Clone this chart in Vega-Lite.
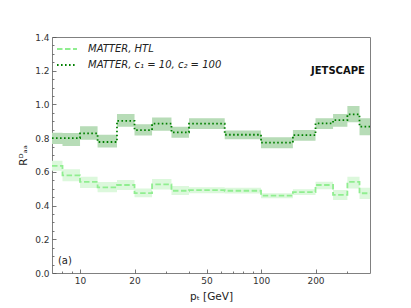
{
  "$schema": "https://vega.github.io/schema/vega-lite/v6.json",
  "width": 318,
  "height": 236,
  "autosize": {"type": "none"},
  "padding": {"left": 52, "top": 37, "right": 41, "bottom": 35},
  "config": {
    "font": "DejaVu Sans",
    "view": {"stroke": "#808080", "strokeWidth": 1},
    "axis": {"domain": false, "grid": false, "labelOverlap": false, "labelFlush": false, "labelFont": "DejaVu Sans", "labelFontSize": 9, "labelColor": "#333333", "tickColor": "#555555", "tickWidth": 0.8, "titleFont": "DejaVu Sans", "titleFontSize": 10.5, "titleFontWeight": "normal", "titleColor": "#222222"}
  },
  "datasets": {
    "bins": [
      {"series": "MATTER, HTL", "pt": 7, "v": 0.635, "lo": 0.607, "hi": 0.666},
      {"series": "MATTER, HTL", "pt": 8, "v": 0.579, "lo": 0.544, "hi": 0.615},
      {"series": "MATTER, HTL", "pt": 10, "v": 0.54, "lo": 0.504, "hi": 0.571},
      {"series": "MATTER, HTL", "pt": 12.5, "v": 0.508, "lo": 0.479, "hi": 0.54},
      {"series": "MATTER, HTL", "pt": 16, "v": 0.522, "lo": 0.492, "hi": 0.552},
      {"series": "MATTER, HTL", "pt": 20, "v": 0.474, "lo": 0.449, "hi": 0.502},
      {"series": "MATTER, HTL", "pt": 25, "v": 0.526, "lo": 0.496, "hi": 0.557},
      {"series": "MATTER, HTL", "pt": 32, "v": 0.488, "lo": 0.463, "hi": 0.516},
      {"series": "MATTER, HTL", "pt": 40, "v": 0.492, "lo": 0.473, "hi": 0.508},
      {"series": "MATTER, HTL", "pt": 63, "v": 0.488, "lo": 0.472, "hi": 0.505},
      {"series": "MATTER, HTL", "pt": 100, "v": 0.459, "lo": 0.443, "hi": 0.473},
      {"series": "MATTER, HTL", "pt": 150, "v": 0.48, "lo": 0.463, "hi": 0.497},
      {"series": "MATTER, HTL", "pt": 200, "v": 0.522, "lo": 0.497, "hi": 0.542},
      {"series": "MATTER, HTL", "pt": 250, "v": 0.463, "lo": 0.433, "hi": 0.492},
      {"series": "MATTER, HTL", "pt": 300, "v": 0.54, "lo": 0.502, "hi": 0.571},
      {"series": "MATTER, HTL", "pt": 350, "v": 0.473, "lo": 0.439, "hi": 0.506},
      {"series": "MATTER, HTL", "pt": 400, "v": 0.473, "lo": 0.439, "hi": 0.506},
      {"series": "MATTER, c₁ = 10, c₂ = 100", "pt": 7, "v": 0.8, "lo": 0.765, "hi": 0.832},
      {"series": "MATTER, c₁ = 10, c₂ = 100", "pt": 8, "v": 0.8, "lo": 0.753, "hi": 0.83},
      {"series": "MATTER, c₁ = 10, c₂ = 100", "pt": 10, "v": 0.828, "lo": 0.79, "hi": 0.87},
      {"series": "MATTER, c₁ = 10, c₂ = 100", "pt": 12.5, "v": 0.777, "lo": 0.745, "hi": 0.82},
      {"series": "MATTER, c₁ = 10, c₂ = 100", "pt": 16, "v": 0.903, "lo": 0.868, "hi": 0.943},
      {"series": "MATTER, c₁ = 10, c₂ = 100", "pt": 20, "v": 0.848, "lo": 0.815, "hi": 0.882},
      {"series": "MATTER, c₁ = 10, c₂ = 100", "pt": 25, "v": 0.886, "lo": 0.844, "hi": 0.923},
      {"series": "MATTER, c₁ = 10, c₂ = 100", "pt": 32, "v": 0.834, "lo": 0.803, "hi": 0.868},
      {"series": "MATTER, c₁ = 10, c₂ = 100", "pt": 40, "v": 0.886, "lo": 0.854, "hi": 0.918},
      {"series": "MATTER, c₁ = 10, c₂ = 100", "pt": 63, "v": 0.82, "lo": 0.793, "hi": 0.846},
      {"series": "MATTER, c₁ = 10, c₂ = 100", "pt": 100, "v": 0.773, "lo": 0.74, "hi": 0.805},
      {"series": "MATTER, c₁ = 10, c₂ = 100", "pt": 150, "v": 0.818, "lo": 0.785, "hi": 0.848},
      {"series": "MATTER, c₁ = 10, c₂ = 100", "pt": 200, "v": 0.888, "lo": 0.854, "hi": 0.918},
      {"series": "MATTER, c₁ = 10, c₂ = 100", "pt": 250, "v": 0.907, "lo": 0.868, "hi": 0.943},
      {"series": "MATTER, c₁ = 10, c₂ = 100", "pt": 300, "v": 0.941, "lo": 0.894, "hi": 0.99},
      {"series": "MATTER, c₁ = 10, c₂ = 100", "pt": 350, "v": 0.868, "lo": 0.817, "hi": 0.918},
      {"series": "MATTER, c₁ = 10, c₂ = 100", "pt": 400, "v": 0.868, "lo": 0.817, "hi": 0.918}
    ],
    "notes": [
      {"pt": 7.55, "v": 0.07, "label": "(a)", "kind": "panel"},
      {"pt": 266, "v": 1.2, "label": "JETSCAPE", "kind": "logo"}
    ]
  },
  "encoding": {
    "x": {
      "field": "pt", "type": "quantitative",
      "scale": {"type": "log", "domain": [7, 400], "nice": false},
      "axis": {
        "title": "pₜ [GeV]",
        "values": [8, 9, 10, 20, 30, 40, 50, 60, 70, 80, 90, 100, 200, 300],
        "labelExpr": "indexof([10,20,50,100,200], datum.value) >= 0 ? datum.label : ''",
        "tickSize": {"condition": {"test": "indexof([10,20,50,100,200], datum.value) >= 0", "value": -4}, "value": -2},
        "labelOverlap": false,
        "labelPadding": 7,
        "titlePadding": 4
      }
    }
  },
  "layer": [
    {
      "data": {"name": "bins"},
      "transform": [{"filter": "datum.series == 'MATTER, HTL'"}],
      "mark": {"type": "area", "interpolate": "step-after", "color": "#dcf8dc", "opacity": 1},
      "encoding": {
        "y": {
          "field": "lo", "type": "quantitative",
          "scale": {"domain": [0, 1.4], "nice": false},
          "axis": {
            "title": "Rᴰₐₐ",
            "values": [0, 0.05, 0.1, 0.15, 0.2, 0.25, 0.3, 0.35, 0.4, 0.45, 0.5, 0.55, 0.6, 0.65, 0.7, 0.75, 0.8, 0.85, 0.9, 0.95, 1.0, 1.05, 1.1, 1.15, 1.2, 1.25, 1.3, 1.35, 1.4],
            "labelExpr": "abs(round(datum.value*5) - datum.value*5) < 0.001 ? format(datum.value, '.1f') : ''",
            "tickSize": {"condition": {"test": "abs(round(datum.value*5) - datum.value*5) < 0.001", "value": -4}, "value": -2},
            "labelOverlap": false,
            "labelFlush": false,
            "labelPadding": 7,
            "titlePadding": 6
          }
        },
        "y2": {"field": "hi"}
      }
    },
    {
      "data": {"name": "bins"},
      "transform": [{"filter": "datum.series != 'MATTER, HTL'"}],
      "mark": {"type": "area", "interpolate": "step-after", "color": "#b7dcb7", "opacity": 1},
      "encoding": {
        "y": {
          "field": "lo", "type": "quantitative",
          "axis": {
            "title": "Rᴰₐₐ",
            "values": [0, 0.05, 0.1, 0.15, 0.2, 0.25, 0.3, 0.35, 0.4, 0.45, 0.5, 0.55, 0.6, 0.65, 0.7, 0.75, 0.8, 0.85, 0.9, 0.95, 1.0, 1.05, 1.1, 1.15, 1.2, 1.25, 1.3, 1.35, 1.4],
            "labelExpr": "abs(round(datum.value*5) - datum.value*5) < 0.001 ? format(datum.value, '.1f') : ''",
            "tickSize": {"condition": {"test": "abs(round(datum.value*5) - datum.value*5) < 0.001", "value": -4}, "value": -2},
            "labelOverlap": false,
            "labelFlush": false,
            "labelPadding": 7,
            "titlePadding": 6
          }
        },
        "y2": {"field": "hi"}
      }
    },
    {
      "data": {"name": "bins"},
      "mark": {"type": "line", "interpolate": "step-after", "strokeWidth": 1.8},
      "encoding": {
        "y": {
          "field": "v", "type": "quantitative",
          "axis": {
            "title": "Rᴰₐₐ",
            "values": [0, 0.05, 0.1, 0.15, 0.2, 0.25, 0.3, 0.35, 0.4, 0.45, 0.5, 0.55, 0.6, 0.65, 0.7, 0.75, 0.8, 0.85, 0.9, 0.95, 1.0, 1.05, 1.1, 1.15, 1.2, 1.25, 1.3, 1.35, 1.4],
            "labelExpr": "abs(round(datum.value*5) - datum.value*5) < 0.001 ? format(datum.value, '.1f') : ''",
            "tickSize": {"condition": {"test": "abs(round(datum.value*5) - datum.value*5) < 0.001", "value": -4}, "value": -2},
            "labelOverlap": false,
            "labelFlush": false,
            "labelPadding": 7,
            "titlePadding": 6
          }
        },
        "color": {
          "field": "series", "type": "nominal",
          "scale": {"domain": ["MATTER, HTL", "MATTER, c₁ = 10, c₂ = 100"], "range": ["#90ee90", "#008000"]},
          "legend": {
            "title": null, "orient": "none", "legendX": 4, "legendY": 1,
            "symbolType": "stroke", "symbolSize": 400, "symbolStrokeWidth": 1.8,
            "labelFontStyle": "italic", "labelFontSize": 10, "labelColor": "#222222",
            "labelOffset": 10, "rowPadding": -12
          }
        },
        "strokeDash": {
          "field": "series", "type": "nominal",
          "scale": {"domain": ["MATTER, HTL", "MATTER, c₁ = 10, c₂ = 100"], "range": [[5.5, 2.5], [1.6, 2.4]]},
          "legend": {
            "title": null, "orient": "none", "legendX": 4, "legendY": 1,
            "symbolType": "stroke", "symbolSize": 400, "symbolStrokeWidth": 1.8,
            "labelFontStyle": "italic", "labelFontSize": 10, "labelColor": "#222222",
            "labelOffset": 10, "rowPadding": -12
          }
        }
      }
    },
    {
      "data": {"name": "notes"},
      "transform": [{"filter": "datum.kind == 'panel'"}],
      "mark": {"type": "text", "align": "left", "baseline": "middle", "fontSize": 10, "color": "#222222"},
      "encoding": {
        "y": {
          "field": "v", "type": "quantitative",
          "axis": {
            "title": "Rᴰₐₐ",
            "values": [0, 0.05, 0.1, 0.15, 0.2, 0.25, 0.3, 0.35, 0.4, 0.45, 0.5, 0.55, 0.6, 0.65, 0.7, 0.75, 0.8, 0.85, 0.9, 0.95, 1.0, 1.05, 1.1, 1.15, 1.2, 1.25, 1.3, 1.35, 1.4],
            "labelExpr": "abs(round(datum.value*5) - datum.value*5) < 0.001 ? format(datum.value, '.1f') : ''",
            "tickSize": {"condition": {"test": "abs(round(datum.value*5) - datum.value*5) < 0.001", "value": -4}, "value": -2},
            "labelOverlap": false,
            "labelFlush": false,
            "labelPadding": 7,
            "titlePadding": 6
          }
        },
        "text": {"field": "label"}
      }
    },
    {
      "data": {"name": "notes"},
      "transform": [{"filter": "datum.kind == 'logo'"}],
      "mark": {"type": "text", "align": "center", "baseline": "middle", "fontSize": 10, "fontWeight": "bold", "color": "#111111"},
      "encoding": {
        "y": {
          "field": "v", "type": "quantitative",
          "axis": {
            "title": "Rᴰₐₐ",
            "values": [0, 0.05, 0.1, 0.15, 0.2, 0.25, 0.3, 0.35, 0.4, 0.45, 0.5, 0.55, 0.6, 0.65, 0.7, 0.75, 0.8, 0.85, 0.9, 0.95, 1.0, 1.05, 1.1, 1.15, 1.2, 1.25, 1.3, 1.35, 1.4],
            "labelExpr": "abs(round(datum.value*5) - datum.value*5) < 0.001 ? format(datum.value, '.1f') : ''",
            "tickSize": {"condition": {"test": "abs(round(datum.value*5) - datum.value*5) < 0.001", "value": -4}, "value": -2},
            "labelOverlap": false,
            "labelFlush": false,
            "labelPadding": 7,
            "titlePadding": 6
          }
        },
        "text": {"field": "label"}
      }
    }
  ]
}
